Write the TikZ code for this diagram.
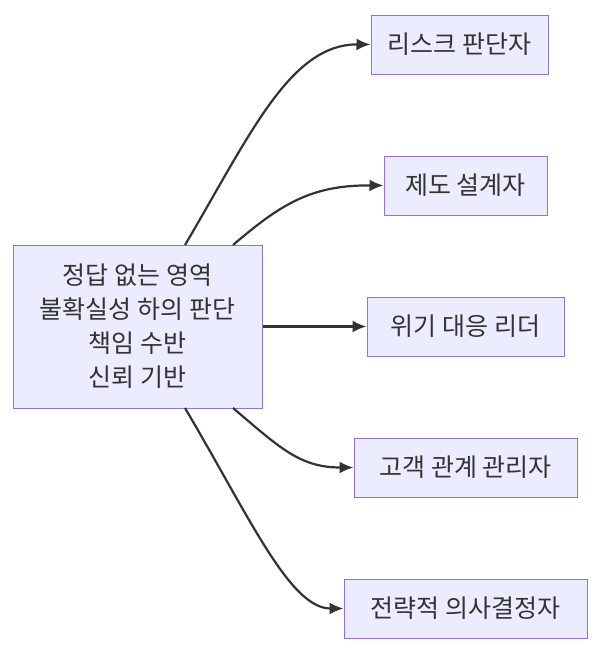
\documentclass[tikz,border=0pt]{standalone}
\usepackage{fontspec}
\newfontfamily\kr{Noto Sans CJK KR}
\usetikzlibrary{arrows.meta}
\definecolor{nfill}{HTML}{ECECFF}
\definecolor{nline}{HTML}{9370DB}
\definecolor{eline}{HTML}{333333}
\begin{document}
\begin{tikzpicture}[x=1pt,y=-1pt,
 box/.style={draw=nline,fill=nfill,line width=1pt,font=\kr\fontsize{25}{34}\selectfont,text=eline,align=center,inner sep=0pt},
 edge/.style={draw=eline,line width=2.2pt,-{Latex[length=14pt,width=12pt]}}]
\useasboundingbox (0,0) rectangle (600,654);
\node[box,minimum width=249pt,minimum height=163pt] (s) at (137.5,326.5) {정답 없는 영역\\불확실성 하의 판단\\책임 수반\\신뢰 기반};
\node[box,minimum width=177pt,minimum height=59pt] (a) at (459.5,44.5) {리스크 판단자};
\node[box,minimum width=163pt,minimum height=59pt] (b) at (465.5,185.5) {제도 설계자};
\node[box,minimum width=197pt,minimum height=59pt] (c) at (465.5,326.5) {위기 대응 리더};
\node[box,minimum width=223pt,minimum height=59pt] (d) at (465.5,467.5) {고객 관계 관리자};
\node[box,minimum width=243pt,minimum height=59pt] (e) at (465.5,608.5) {전략적 의사결정자};
\coordinate (s1) at (185,245); \coordinate (s2) at (233,245);
\coordinate (s4) at (233,408); \coordinate (s5) at (185,408);
\draw[edge] (s1) .. controls (250,135) and (290,44) .. (a.west);
\draw[edge] (s2) .. controls (280,205) and (310,185) .. (b.west);
\draw[edge] (s.east) -- (c.west);
\draw[edge] (s4) .. controls (280,448) and (300,467.5) .. (d.west);
\draw[edge] (s5) .. controls (250,518) and (290,608.5) .. (e.west);
\end{tikzpicture}
\end{document}
